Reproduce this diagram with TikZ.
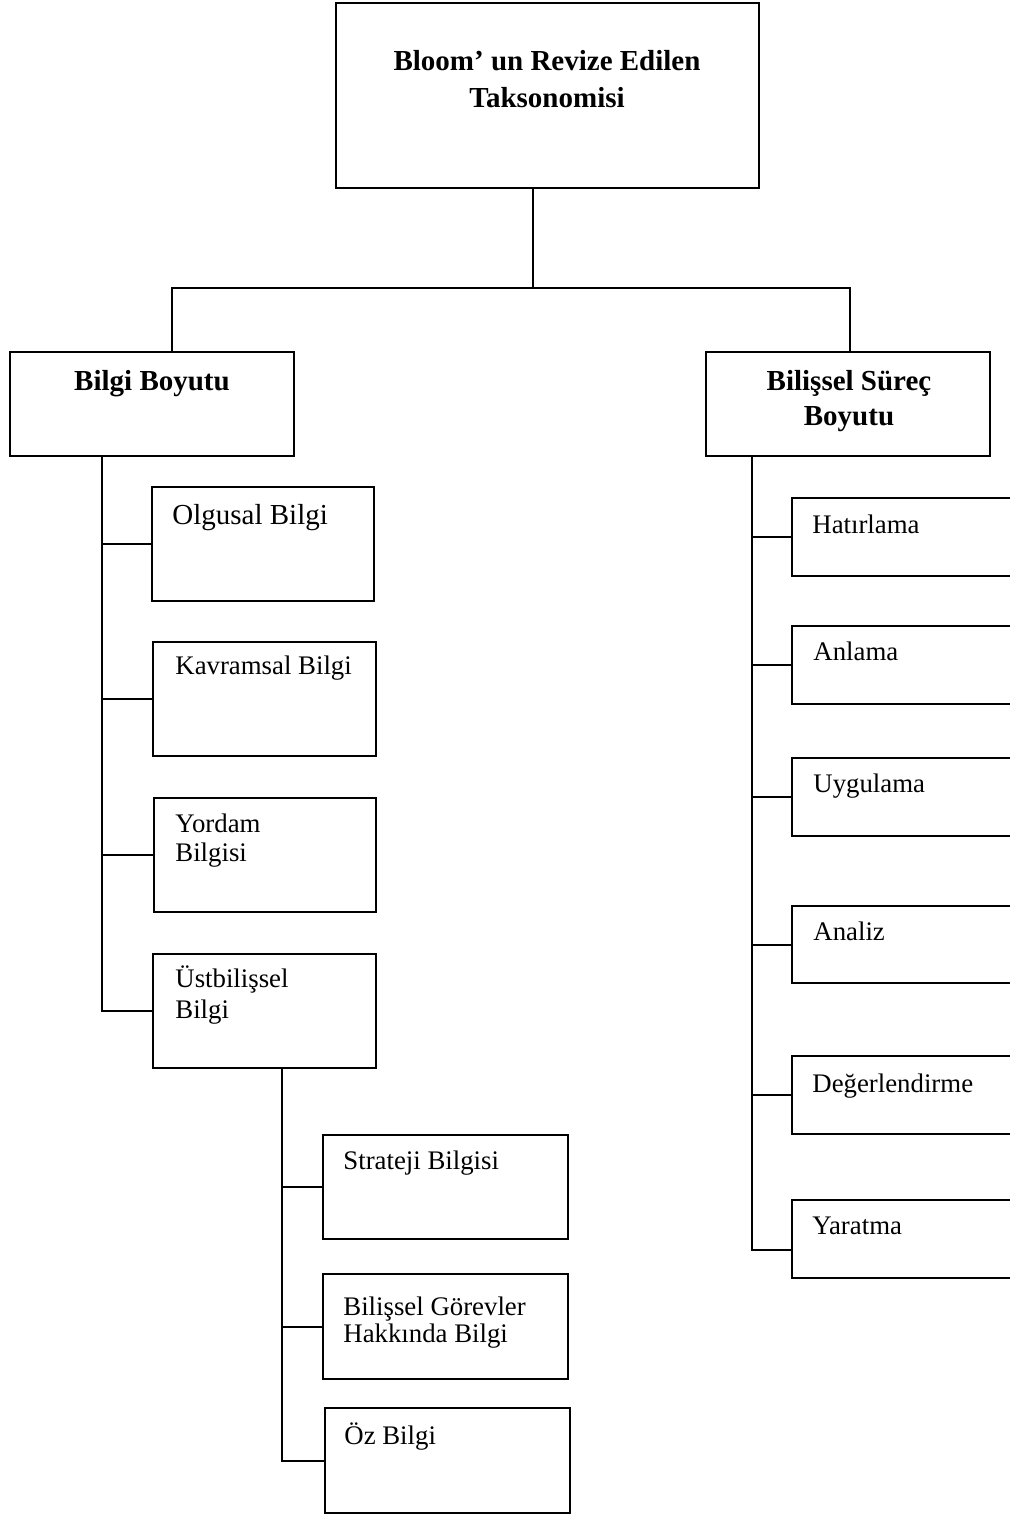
\documentclass[tikz,border=0pt]{standalone}
\usepackage{fontspec}
\setmainfont{Liberation Serif}
\usetikzlibrary{fit,calc}
\begin{document}
\begin{tikzpicture}[x=0.5pt,y=-0.5pt,
  box/.style={draw, line width=1pt, inner sep=0pt, rectangle},
  txt/.style={inner sep=0pt, font=\fontsize{13.4}{14.5}\selectfont, align=left, anchor=base west},
  head/.style={inner sep=0pt, font=\fontsize{14.5}{17.5}\selectfont\bfseries, align=center, anchor=base},
  conn/.style={draw, line width=1pt}]
\useasboundingbox (0,0) rectangle (1010,1515);
\clip (0,0) rectangle (1010,1515);

% top level (multi-line text nodes are anchored at the baseline of their last line)
\node[box, fit={(336,3)(759,188)}] (top) {};
\node[head, font=\fontsize{14.5}{18.5}\selectfont\bfseries] (toptxt) at (547,107) {Bloom’ un Revize Edilen\\Taksonomisi};

% second level
\node[box, fit={(10,352)(294,456)}] (bb) {};
\node[head] (bbtxt) at (152,390) {Bilgi Boyutu};
\node[box, fit={(706,352)(990,456)}] (bs) {};
\node[head] (bstxt) at (849,425) {Bilişsel Süreç\\Boyutu};

% left children
\node[box, fit={(152,487)(374,601)}] (olg) {};
\node[txt, font=\fontsize{14.5}{14.5}\selectfont] at ($(olg.north west)+(21,38)$) {Olgusal Bilgi};
\node[box, fit={(153,642)(376,756)}] (kav) {};
\node[txt] at ($(kav.north west)+(23,33)$) {Kavramsal Bilgi};
\node[box, fit={(154,798)(376,912)}] (yor) {};
\node[txt] at ($(yor.north west)+(22,64)$) {Yordam\\Bilgisi};
\node[box, fit={(153,954)(376,1068)}] (ust) {};
\node[txt, font=\fontsize{13.4}{15.5}\selectfont] at ($(ust.north west)+(23,65)$) {Üstbilişsel\\Bilgi};

% metacognitive children
\node[box, fit={(323,1135)(568,1239)}] (str) {};
\node[txt] at ($(str.north west)+(21,35)$) {Strateji Bilgisi};
\node[box, fit={(323,1274)(568,1379)}] (bgh) {};
\node[txt, font=\fontsize{13.4}{13.5}\selectfont] at ($(bgh.north west)+(21,69)$) {Bilişsel Görevler\\Hakkında Bilgi};
\node[box, fit={(325,1408)(570,1513)}] (oz) {};
\node[txt] at ($(oz.north west)+(20,37)$) {Öz Bilgi};

% right children (cut off at the right edge)
\node[box, fit={(792,498)(1030,576)}] (hat) {};
\node[txt] at ($(hat.north west)+(21,36)$) {Hatırlama};
\node[box, fit={(792,626)(1030,704)}] (anl) {};
\node[txt] at ($(anl.north west)+(22,35)$) {Anlama};
\node[box, fit={(792,758)(1030,836)}] (uyg) {};
\node[txt] at ($(uyg.north west)+(22,35)$) {Uygulama};
\node[box, fit={(792,906)(1030,983)}] (ana) {};
\node[txt] at ($(ana.north west)+(22,35)$) {Analiz};
\node[box, fit={(792,1056)(1030,1134)}] (deg) {};
\node[txt] at ($(deg.north west)+(21,37)$) {Değerlendirme};
\node[box, fit={(792,1200)(1030,1278)}] (yar) {};
\node[txt] at ($(yar.north west)+(21,35)$) {Yaratma};

% junction coordinates
\coordinate (j) at (533,288);
\coordinate (jl) at (172,288);
\coordinate (jr) at (850,288);
\coordinate (tl) at (102,0);
\coordinate (tr) at (752,0);
\coordinate (ts) at (282,0);

% connectors
\draw[conn] (top.south -| j) -- (j);
\draw[conn] (bb.north -| jl) -- (jl) -- (jr) -- (bs.north -| jr);

\draw[conn] (bb.south -| tl) |- (ust.west);
\draw[conn] (tl |- olg.west) -- (olg.west);
\draw[conn] (tl |- kav.west) -- (kav.west);
\draw[conn] (tl |- yor.west) -- (yor.west);

\draw[conn] (ust.south -| ts) |- (oz.west);
\draw[conn] (ts |- str.west) -- (str.west);
\draw[conn] (ts |- bgh.west) -- (bgh.west);

\draw[conn] (bs.south -| tr) |- ($(yar.west)+(0,11)$);
\draw[conn] (tr |- hat.west) -- (hat.west);
\draw[conn] (tr |- anl.west) -- (anl.west);
\draw[conn] (tr |- uyg.west) -- (uyg.west);
\draw[conn] (tr |- ana.west) -- (ana.west);
\draw[conn] (tr |- deg.west) -- (deg.west);
\end{tikzpicture}
\end{document}
